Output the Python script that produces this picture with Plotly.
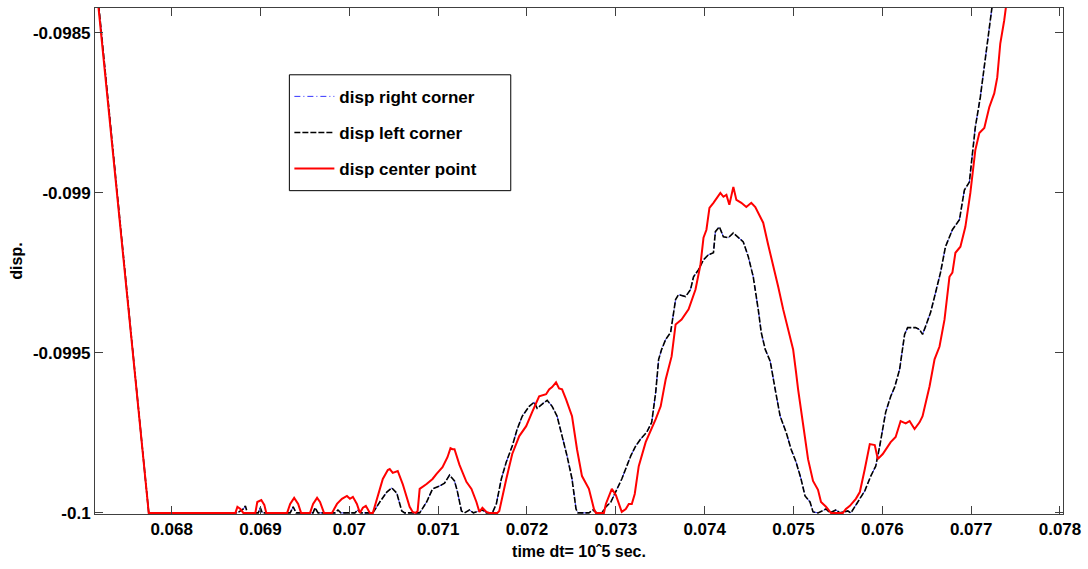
import plotly.graph_objects as go

# ---------------- data ----------------
left_t = [0.067170, 0.067742, 0.068740, 0.068807, 0.068830, 0.068852, 0.068975, 0.068998, 0.069020,
          0.069334, 0.069368, 0.069401, 0.069592, 0.069614, 0.069648, 0.069839, 0.069872, 0.069906,
          0.070063, 0.070096, 0.070130, 0.070265, 0.070343, 0.070422, 0.070478, 0.070534, 0.070590,
          0.070623, 0.070792, 0.070870, 0.070937, 0.071016, 0.071072, 0.071128, 0.071184, 0.071218,
          0.071262, 0.071296, 0.071352, 0.071397, 0.071498, 0.071543, 0.071610, 0.071655, 0.071711,
          0.071767, 0.071834, 0.071890, 0.071946, 0.072025, 0.072081, 0.072114, 0.072171, 0.072227,
          0.072283, 0.072339, 0.072395, 0.072451, 0.072507, 0.072552, 0.072574, 0.072697, 0.072742,
          0.072787, 0.072843, 0.072888, 0.072944, 0.073000, 0.073067, 0.073123, 0.073168, 0.073224,
          0.073280, 0.073348, 0.073404, 0.073449, 0.073482, 0.073516, 0.073561, 0.073617, 0.073673,
          0.073706, 0.073785, 0.073841, 0.073875, 0.073931, 0.073987, 0.074043, 0.074099, 0.074121,
          0.074166, 0.074211, 0.074267, 0.074323, 0.074379, 0.074435, 0.074491, 0.074547, 0.074603,
          0.074637, 0.074682, 0.074738, 0.074794, 0.074850, 0.074917, 0.074973, 0.075029, 0.075085,
          0.075130, 0.075186, 0.075220, 0.075276, 0.075366, 0.075410, 0.075478, 0.075523, 0.075612,
          0.075646, 0.075724, 0.075803, 0.075870, 0.075926, 0.075971, 0.076005, 0.076038, 0.076094,
          0.076139, 0.076195, 0.076251, 0.076285, 0.076375, 0.076419, 0.076453, 0.076487, 0.076543,
          0.076599, 0.076655, 0.076711, 0.076789, 0.076868, 0.076924, 0.076980, 0.077014, 0.077047,
          0.077103, 0.077148, 0.077204, 0.077238, 0.077249]
left_y = [-0.098389, -0.100000, -0.100000, -0.099988, -0.099978, -0.100000, -0.100000, -0.099984, -0.100000,
          -0.100000, -0.099981, -0.100000, -0.100000, -0.099984, -0.100000, -0.100000, -0.099991, -0.100000,
          -0.100000, -0.099991, -0.100000, -0.100000, -0.099966, -0.099935, -0.099922, -0.099938, -0.099994,
          -0.100000, -0.100000, -0.099966, -0.099925, -0.099916, -0.099907, -0.099882, -0.099900, -0.099935,
          -0.099994, -0.100000, -0.099991, -0.100000, -0.099991, -0.100000, -0.100000, -0.099972, -0.099894,
          -0.099841, -0.099791, -0.099738, -0.099698, -0.099667, -0.099654, -0.099673, -0.099660, -0.099648,
          -0.099667, -0.099698, -0.099760, -0.099822, -0.099894, -0.099988, -0.100000, -0.100000, -0.099991,
          -0.100000, -0.100000, -0.099981, -0.099966, -0.099935, -0.099894, -0.099854, -0.099822, -0.099791,
          -0.099769, -0.099748, -0.099717, -0.099623, -0.099520, -0.099489, -0.099458, -0.099436, -0.099333,
          -0.099318, -0.099324, -0.099302, -0.099262, -0.099240, -0.099209, -0.099193, -0.099187, -0.099121,
          -0.099106, -0.099137, -0.099140, -0.099125, -0.099140, -0.099153, -0.099199, -0.099262, -0.099364,
          -0.099436, -0.099489, -0.099526, -0.099614, -0.099698, -0.099748, -0.099801, -0.099841, -0.099894,
          -0.099947, -0.099966, -0.099997, -0.100000, -0.099988, -0.100000, -0.099991, -0.100000, -0.099994,
          -0.100000, -0.099966, -0.099931, -0.099885, -0.099854, -0.099791, -0.099738, -0.099685, -0.099636,
          -0.099607, -0.099551, -0.099442, -0.099421, -0.099421, -0.099427, -0.099442, -0.099417, -0.099374,
          -0.099312, -0.099249, -0.099168, -0.099115, -0.099084, -0.098991, -0.098966, -0.098875, -0.098794,
          -0.098701, -0.098608, -0.098492, -0.098421, -0.098389]

# right corner coincides with the left corner within drawing precision
right_t = list(left_t)
right_y = list(left_y)

center_t = [0.067165, 0.067742, 0.068718, 0.068740, 0.068774, 0.068807, 0.068942, 0.068964, 0.069009,
            0.069043, 0.069065, 0.069300, 0.069334, 0.069379, 0.069424, 0.069457, 0.069558, 0.069592,
            0.069637, 0.069670, 0.069715, 0.069805, 0.069861, 0.069917, 0.069973, 0.070007, 0.070040,
            0.070085, 0.070119, 0.070153, 0.070186, 0.070231, 0.070265, 0.070321, 0.070377, 0.070433,
            0.070455, 0.070489, 0.070511, 0.070545, 0.070601, 0.070646, 0.070679, 0.070713, 0.070747,
            0.070769, 0.070792, 0.070870, 0.070937, 0.070982, 0.071049, 0.071105, 0.071139, 0.071162,
            0.071184, 0.071240, 0.071318, 0.071375, 0.071431, 0.071464, 0.071498, 0.071543, 0.071576,
            0.071666, 0.071688, 0.071767, 0.071834, 0.071913, 0.071991, 0.072058, 0.072137, 0.072215,
            0.072249, 0.072283, 0.072327, 0.072361, 0.072395, 0.072440, 0.072507, 0.072563, 0.072619,
            0.072697, 0.072754, 0.072776, 0.072866, 0.072888, 0.072955, 0.073000, 0.073034, 0.073067,
            0.073112, 0.073146, 0.073180, 0.073213, 0.073258, 0.073336, 0.073449, 0.073505, 0.073561,
            0.073628, 0.073673, 0.073740, 0.073819, 0.073897, 0.073953, 0.073987, 0.074020, 0.074054,
            0.074099, 0.074132, 0.074177, 0.074211, 0.074245, 0.074278, 0.074323, 0.074357, 0.074413,
            0.074469, 0.074525, 0.074570, 0.074603, 0.074659, 0.074715, 0.074771, 0.074828, 0.074884,
            0.074940, 0.074996, 0.075029, 0.075052, 0.075108, 0.075164, 0.075220, 0.075276, 0.075310,
            0.075366, 0.075422, 0.075556, 0.075590, 0.075635, 0.075702, 0.075747, 0.075803, 0.075859,
            0.075915, 0.075949, 0.076005, 0.076038, 0.076094, 0.076150, 0.076206, 0.076263, 0.076307,
            0.076363, 0.076419, 0.076453, 0.076532, 0.076588, 0.076644, 0.076700, 0.076756, 0.076789,
            0.076823, 0.076879, 0.076935, 0.076991, 0.077047, 0.077092, 0.077148, 0.077204, 0.077260,
            0.077294, 0.077328, 0.077372, 0.077395, 0.077406]
center_y = [-0.098389, -0.100000, -0.100000, -0.099981, -0.099988, -0.100000, -0.100000, -0.099966, -0.099960,
            -0.099975, -0.100000, -0.100000, -0.099972, -0.099953, -0.099972, -0.100000, -0.100000, -0.099972,
            -0.099953, -0.099966, -0.100000, -0.100000, -0.099972, -0.099956, -0.099947, -0.099956, -0.099950,
            -0.099972, -0.100000, -0.099984, -0.099978, -0.100000, -0.100000, -0.099947, -0.099894, -0.099866,
            -0.099863, -0.099875, -0.099872, -0.099869, -0.099910, -0.099947, -0.099981, -0.099997, -0.100000,
            -0.099994, -0.099925, -0.099910, -0.099894, -0.099878, -0.099857, -0.099826, -0.099798, -0.099801,
            -0.099801, -0.099850, -0.099903, -0.099925, -0.099966, -0.099997, -0.099984, -0.099997, -0.100000,
            -0.100000, -0.099994, -0.099894, -0.099816, -0.099760, -0.099729, -0.099685, -0.099636, -0.099629,
            -0.099614, -0.099607, -0.099592, -0.099611, -0.099614, -0.099645, -0.099698, -0.099801, -0.099885,
            -0.099925, -0.099988, -0.100000, -0.100000, -0.099972, -0.099925, -0.099944, -0.099972, -0.099997,
            -0.099988, -0.099972, -0.099972, -0.099941, -0.099854, -0.099779, -0.099707, -0.099667, -0.099583,
            -0.099511, -0.099411, -0.099396, -0.099364, -0.099302, -0.099224, -0.099140, -0.099115, -0.099047,
            -0.099031, -0.099016, -0.099000, -0.099012, -0.099006, -0.099037, -0.098981, -0.099022, -0.099031,
            -0.099044, -0.099031, -0.099044, -0.099062, -0.099093, -0.099162, -0.099224, -0.099293, -0.099364,
            -0.099427, -0.099489, -0.099561, -0.099614, -0.099723, -0.099832, -0.099900, -0.099928, -0.099966,
            -0.099981, -0.100000, -0.100000, -0.099988, -0.099978, -0.099956, -0.099935, -0.099863, -0.099785,
            -0.099788, -0.099832, -0.099816, -0.099801, -0.099779, -0.099763, -0.099713, -0.099720, -0.099713,
            -0.099738, -0.099717, -0.099698, -0.099604, -0.099520, -0.099480, -0.099396, -0.099262, -0.099249,
            -0.099187, -0.099168, -0.099106, -0.099000, -0.098866, -0.098813, -0.098797, -0.098732, -0.098689,
            -0.098639, -0.098533, -0.098461, -0.098421, -0.098389]

x_tick_vals = [0.068, 0.069, 0.070, 0.071, 0.072, 0.073, 0.074, 0.075, 0.076, 0.077, 0.078]
x_tick_text = ["0.068", "0.069", "0.07", "0.071", "0.072", "0.073", "0.074", "0.075", "0.076", "0.077", "0.078"]
y_tick_vals = [-0.1, -0.0995, -0.099, -0.0985]
y_tick_text = ["-0.1", "-0.0995", "-0.099", "-0.0985"]

# ---------------- figure ----------------
FONT = "Liberation Sans, Arial, Helvetica, sans-serif"

fig = go.Figure()
fig.add_trace(go.Scatter(x=right_t, y=right_y, mode="lines", name="disp right corner",
                         legendgroup="a",
                         line=dict(color="#0000ff", width=0.8, dash="6px,3px,1px,3px")))
fig.add_trace(go.Scatter(x=left_t, y=left_y, mode="lines", name="disp left corner",
                         legendgroup="b",
                         line=dict(color="#000000", width=1.6, dash="6px,2px")))
fig.add_trace(go.Scatter(x=center_t, y=center_y, mode="lines", name="disp center point",
                         legendgroup="c",
                         line=dict(color="#ff0000", width=2)))

axis_common = dict(showgrid=False, zeroline=False, showline=True, linecolor="#404040",
                   linewidth=1, mirror="allticks", ticks="inside", ticklen=8, tickcolor="#404040",
                   tickfont=dict(family=FONT, size=17, color="black", weight="bold"))

fig.update_xaxes(range=[0.067137, 0.078034], tickvals=x_tick_vals, ticktext=x_tick_text,
                 title=dict(text="time dt= 10ˆ5 sec.", standoff=7,
                            font=dict(family=FONT, size=16, color="black", weight="bold")),
                 **axis_common)
fig.update_yaxes(range=[-0.1000035, -0.098422], tickvals=y_tick_vals, ticktext=y_tick_text,
                 title=dict(text="disp.", standoff=6,
                            font=dict(family=FONT, size=16, color="black", weight="bold")),
                 **axis_common)

fig.add_shape(type="rect", xref="paper", yref="paper", x0=0.2008, x1=0.4295, y0=0.639, y1=0.868,
              line=dict(color="black", width=1), fillcolor="white", layer="below")

fig.update_layout(
    width=1088, height=569,
    margin=dict(l=95, r=22, t=7, b=55),
    paper_bgcolor="white", plot_bgcolor="white",
    showlegend=True,
    legend=dict(x=0.2008, y=0.860, xanchor="left", yanchor="top",
                bgcolor="rgba(0,0,0,0)", borderwidth=0, itemwidth=40,
                traceorder="grouped", tracegroupgap=11,
                font=dict(family=FONT, size=17, color="black", weight="bold")),
)

fig.write_html("out.html")
